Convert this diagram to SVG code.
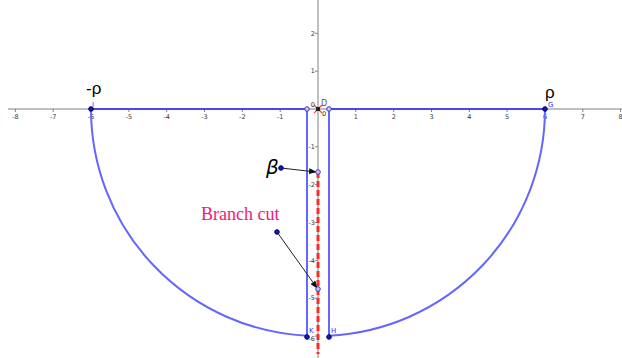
<svg xmlns="http://www.w3.org/2000/svg" width="622" height="358" viewBox="0 0 622 358">
<style>
.ax{stroke:#808080;stroke-width:1;fill:none}
.tk{font-family:"DejaVu Sans","Liberation Sans",sans-serif;font-size:6.5px;fill:#333}
.tx{text-anchor:middle}
.ty{text-anchor:end}
.ct{stroke:#6666ff;stroke-width:2;fill:none}
.top{stroke:#4a4ae0;stroke-width:2.2;fill:none}
.pf{fill:#1a1aa0;stroke:#00007a;stroke-width:1}
.po{fill:#c8c8ff;stroke:#3c3cc0;stroke-width:1}
.lb{font-family:"Liberation Sans","DejaVu Sans",sans-serif;fill:#000}
.sl{font-family:"DejaVu Sans","Liberation Sans",sans-serif;font-size:7px;fill:#3333ff}
.ar{stroke:#222;stroke-width:1;fill:none}
</style>
<defs>
<marker id="ah" markerWidth="8" markerHeight="6" refX="7" refY="3" orient="auto" markerUnits="userSpaceOnUse">
<path d="M0,0 L8,3 L0,6 Z" fill="#111"/>
</marker>
</defs>
<rect width="622" height="358" fill="#fff"/>
<g id="axes">
<line class="ax" x1="8" y1="109" x2="622" y2="109"/>
<line class="ax" x1="318" y1="0" x2="318" y2="358"/>
<g class="ax">
<path d="M15.4 109v3M53.2 109v3M91 109v3M128.9 109v3M166.7 109v3M204.5 109v3M242.3 109v3M280.2 109v3M355.8 109v3M393.7 109v3M431.5 109v3M469.3 109v3M507.1 109v3M545 109v3M582.8 109v3M620.6 109v3"/>
<path d="M315 33.3h3M315 71.2h3M315 146.8h3M315 184.7h3M315 222.5h3M315 260.3h3M315 298.2h3M315 336h3"/>
</g>
<g class="tk tx">
<text x="15.4" y="119">-8</text>
<text x="53.2" y="119">-7</text>
<text x="91" y="119">-6</text>
<text x="128.9" y="119">-5</text>
<text x="166.7" y="119">-4</text>
<text x="204.5" y="119">-3</text>
<text x="242.3" y="119">-2</text>
<text x="280.2" y="119">-1</text>
<text x="355.8" y="119">1</text>
<text x="393.7" y="119">2</text>
<text x="431.5" y="119">3</text>
<text x="469.3" y="119">4</text>
<text x="507.1" y="119">5</text>
<text x="545" y="119">6</text>
<text x="582.8" y="119">7</text>
<text x="620.6" y="119">8</text>
</g>
<g class="tk ty">
<text x="315" y="35.5">2</text>
<text x="315" y="73.4">1</text>
<text x="315" y="149">-1</text>
<text x="315" y="187">-2</text>
<text x="315" y="224.7">-3</text>
<text x="315" y="262.5">-4</text>
<text x="315" y="300.4">-5</text>
<text x="315" y="341">-6</text>
<text x="315" y="107">0</text>
</g>
<text class="tk" x="322" y="116">0</text>
</g>
<g id="branch-cut-line">
<line x1="318" y1="172" x2="318" y2="354" stroke="#ff2a2a" stroke-width="3" stroke-dasharray="6,3"/>
</g>
<g id="contour">
<line class="top" x1="91" y1="109" x2="307" y2="109"/>
<line class="top" x1="329" y1="109" x2="545" y2="109"/>
<line class="ct" x1="307" y1="109" x2="307" y2="336"/>
<line class="ct" x1="329" y1="109" x2="329" y2="336"/>
<path class="ct" d="M91 109 A227 227 0 0 0 307 335.7"/>
<path class="ct" d="M329 335.7 A227 227 0 0 0 545 109"/>
</g>
<g id="connectors">
<line class="ar" x1="281" y1="168" x2="316" y2="172" marker-end="url(#ah)"/>
<line class="ar" x1="277" y1="232" x2="317" y2="288" marker-end="url(#ah)"/>
</g>
<g id="origin">
<path d="M314 105 L322 113 M322 105 L314 113" stroke="#ff4040" stroke-width="1.2"/>
<rect x="316" y="107" width="4" height="4" fill="#222"/>
<text x="321" y="106" style="font-family:'DejaVu Sans',sans-serif;font-size:8px;fill:#555">D</text>
</g>
<g id="neg-rho">
<circle class="pf" cx="91" cy="109" r="2.3"/>
<text class="lb" x="86" y="94" font-size="17">-ρ</text>
<text class="sl" x="92" y="107" font-size="4">I</text>
</g>
<g id="rho">
<circle class="pf" cx="545" cy="109" r="2.3"/>
<text class="lb" x="545" y="98" font-size="17">ρ</text>
<text class="sl" x="548" y="107" font-size="5">G</text>
</g>
<g id="pt-left-top"><circle class="po" cx="307" cy="109" r="2.3"/></g>
<g id="pt-right-top"><circle class="po" cx="329" cy="109" r="2.3"/></g>
<g id="K">
<circle class="pf" cx="307" cy="337" r="2.3"/>
<text class="sl" x="309" y="333">K</text>
</g>
<g id="H">
<circle class="pf" cx="329" cy="337" r="2.3"/>
<text class="sl" x="331" y="333">H</text>
</g>
<g id="beta">
<circle class="pf" cx="281" cy="168" r="2.3"/>
<text x="266" y="174" font-family="'DejaVu Sans','Liberation Sans',sans-serif" font-style="italic" font-size="20" fill="#000">β</text>
</g>
<g id="pt-beta-target"><circle class="po" cx="318" cy="172" r="2.3"/></g>
<g id="branch-cut">
<circle class="pf" cx="277" cy="232" r="2.3"/>
<text x="201" y="220" font-family="'Liberation Serif','DejaVu Serif',serif" font-size="18" fill="#f0197a">Branch cut</text>
</g>
<g id="pt-branch-target"><circle class="po" cx="318" cy="289" r="2.3"/></g>
</svg>
